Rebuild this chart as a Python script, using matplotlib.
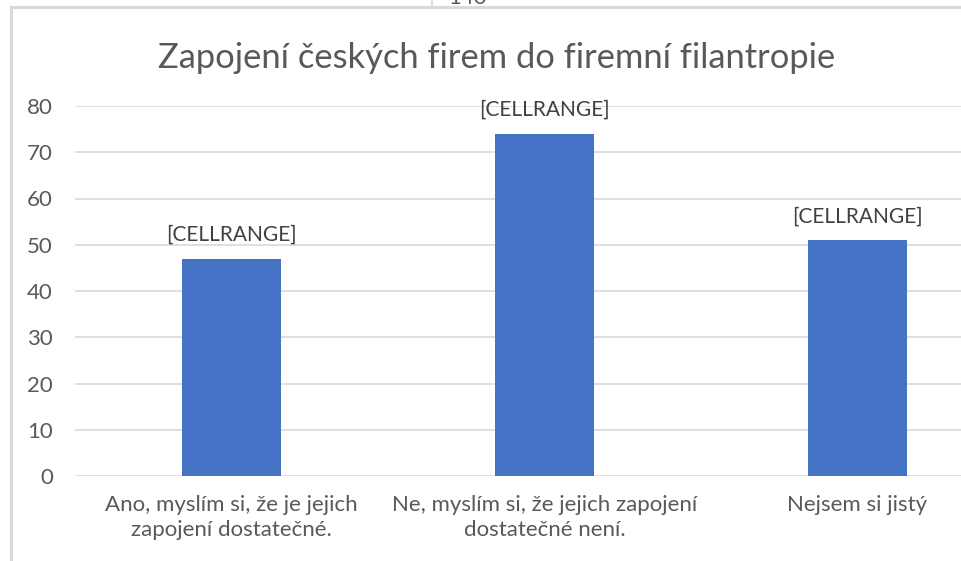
import matplotlib.pyplot as plt
from matplotlib.lines import Line2D

categories = ['Ano, myslím si, že je jejich\nzapojení dostatečné.',
              'Ne, myslím si, že jejich zapojení\ndostatečné není.',
              'Nejsem si jistý']
values = [47, 74, 51]
labels = ['[CELLRANGE]', '[CELLRANGE]', '[CELLRANGE]']
yticks = [0, 10, 20, 30, 40, 50, 60, 70, 80]

W, H = 961, 561
plt.rcParams['font.family'] = ['Lato', 'DejaVu Sans']
fig = plt.figure(figsize=(W / 100, H / 100), dpi=100)

# plot area runs past the right edge of the picture (cropped screenshot)
left, right, bottom, top = 75, 1014, 476, 106
ax = fig.add_axes([left / W, 1 - bottom / H, (right - left) / W, (bottom - top) / H])
x = range(len(values))
ax.bar(x, values, width=0.316, color='#4472c4', zorder=3)
ax.set_xlim(-0.5, 2.5)
ax.set_ylim(0, 80)
ax.set_yticks(yticks)
ax.grid(axis='y', color='#d9d9d9', linewidth=1.2, zorder=0)
for s in ax.spines.values():
    s.set_visible(False)
ax.set_xticks(list(x))
ax.set_xticklabels(categories, fontsize=16, color='#595959', linespacing=1.3)
ax.tick_params(axis='both', length=0, labelsize=16, labelcolor='#595959')
ax.tick_params(axis='y', pad=16)
ax.tick_params(axis='x', pad=14)
for i, (v, lab) in enumerate(zip(values, labels)):
    ax.annotate(lab, (i, v), xytext=(0, 10), textcoords='offset points',
                ha='center', va='bottom', fontsize=15, color='#404040')

fig.text(497 / W, 1 - 58 / H, 'Zapojení českých firem do firemní filantropie',
         ha='center', va='center', fontsize=24.8, color='#595959')

# chart frame and the cut-off remains of the element above
frame = '#d9d9d9'
fig.add_artist(Line2D([11 / W, 11 / W], [0, 1 - 6.5 / H], color=frame, lw=2.2))
fig.add_artist(Line2D([11 / W, 1], [1 - 6.5 / H, 1 - 6.5 / H], color=frame, lw=2.2))
fig.add_artist(Line2D([432 / W, 432 / W], [1 - 6 / H, 1], color=frame, lw=1.2))
fig.text(468 / W, 1 - 4 / H, '140', ha='center', va='baseline',
         fontsize=16, color='#595959')

fig.savefig('out.png', dpi=100)
